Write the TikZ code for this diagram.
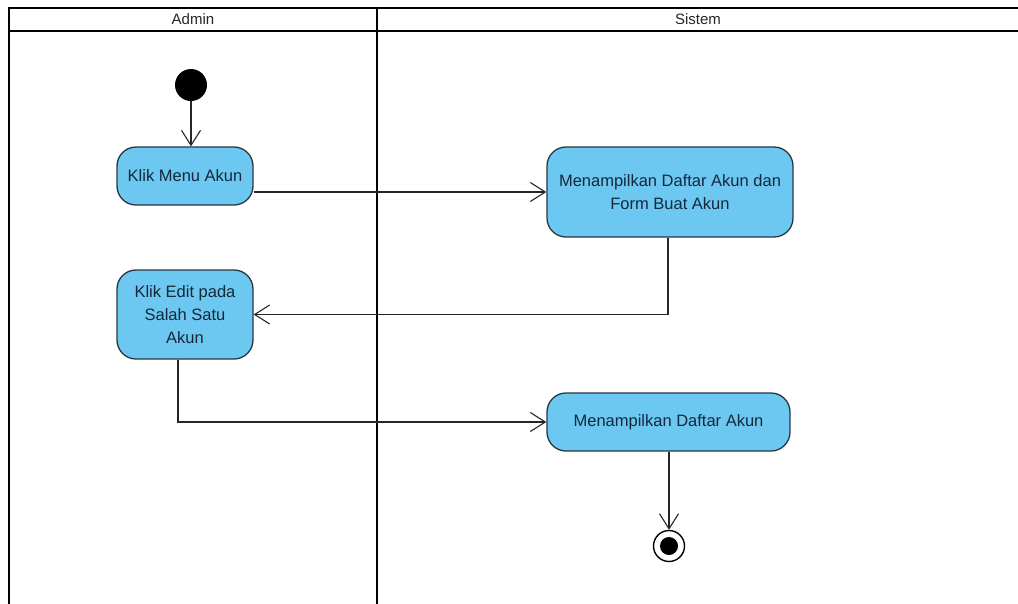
\documentclass[tikz,border=0pt]{standalone}
\usepackage{fontspec}
\setmainfont{Liberation Sans}
\usetikzlibrary{arrows.meta}
\definecolor{actfill}{RGB}{108,200,240}
\definecolor{actline}{RGB}{40,55,65}
\definecolor{acttext}{RGB}{20,40,60}
\tikzset{
  lane/.style={line width=2.6pt, black},
  activity/.style={draw=actline, line width=1.3pt, fill=actfill, rounded corners=19pt,
    text=acttext, align=center, inner sep=0pt,
    font=\fontsize{16.5}{23}\selectfont},
  flow/.style={draw=black!85, line width=1.1pt,
    -{Straight Barb[length=15pt,width=19pt,line width=1.1pt]}},
  lanetitle/.style={font=\fontsize{15}{16}\selectfont, text=black!85}
}
\begin{document}
\begin{tikzpicture}[x=1pt,y=-1pt]
\useasboundingbox (0,0) rectangle (1018,603);
\fill[white] (0,0) rectangle (1018,603);

% swimlane frame
\draw[line width=1.8pt] (1020,8) -- (9,8) -- (9,604);
\draw[lane] (9,31) -- (1020,31);
\draw[lane] (377,8) -- (377,604);
\node[lanetitle] (admin) at (193,19) {Admin};
\node[lanetitle] (sistem) at (698,19) {Sistem};

% start and end
\node[circle, fill=black, minimum size=32pt, inner sep=0pt] (start) at (191,85) {};
\node[circle, draw=black, line width=1.4pt, fill=white, minimum size=31pt, inner sep=0pt] (end) at (669,546) {};
\node[circle, fill=black, minimum size=18pt, inner sep=0pt] (enddot) at (end.center) {};

% activities
\node[activity, minimum width=136pt, minimum height=58pt] (a1) at (185,176) {Klik Menu Akun};
\node[activity, minimum width=246pt, minimum height=90pt] (a2) at (670,192) {Menampilkan Daftar Akun dan\\Form Buat Akun};
\node[activity, minimum width=136pt, minimum height=89pt] (a3) at (185,314.5) {Klik Edit pada\\Salah Satu\\Akun};
\node[activity, minimum width=243pt, minimum height=58pt] (a4) at (668.5,422) {Menampilkan Daftar Akun};

% control flows
\draw[flow] (start) -- (start |- a1.north);
\draw[flow] (a1.east |- a2.west) -- (a2.west);
\draw[flow] ([xshift=-2pt]a2.south) |- (a3.east);
\draw[flow] ([xshift=-7pt]a3.south) |- (a4.west);
\draw[flow] (a4.south -| end) -- (end.north);
\end{tikzpicture}
\end{document}
